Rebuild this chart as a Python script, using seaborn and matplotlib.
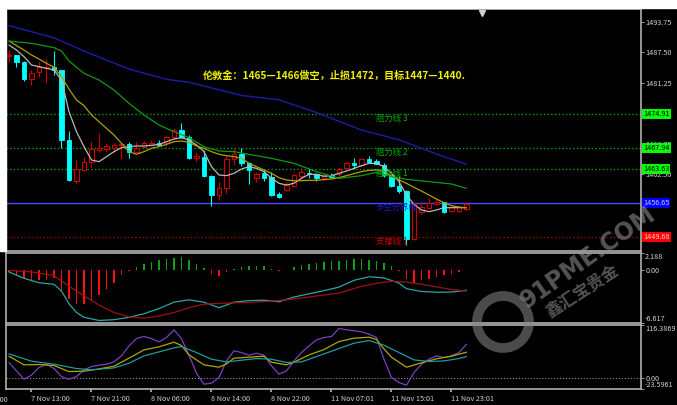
import matplotlib
matplotlib.use("Agg")
import matplotlib.pyplot as plt
import matplotlib.transforms as mtransforms
from matplotlib.patches import Rectangle, Circle
import seaborn as sns
import numpy as np

sns.set_theme(style="dark")
plt.rcParams['font.family'] = ['Noto Sans CJK SC', 'DejaVu Sans']

# ---- XAUUSD H1 candles ----
opens = [1486.85, 1486.98, 1485.62, 1482.00, 1483.43, 1484.40, 1484.59, 1483.91, 1469.57, 1461.23,
         1463.42, 1465.13, 1467.60, 1467.72, 1467.86, 1468.45, 1468.81, 1467.18, 1468.20, 1468.54,
         1469.02, 1468.88, 1470.10, 1471.60, 1470.25, 1465.81, 1466.15, 1462.26, 1458.29, 1459.66,
         1465.67, 1466.63, 1464.78, 1461.71, 1462.73, 1461.92, 1458.50, 1459.32, 1460.21, 1462.26,
         1462.87, 1462.53, 1461.71, 1462.33, 1462.53, 1463.76, 1464.92, 1464.44, 1465.60, 1465.33,
         1464.44, 1462.39, 1460.21, 1459.18, 1449.28, 1454.88, 1455.70, 1456.38, 1456.79, 1455.02,
         1455.02, 1455.43]
closes = [1486.92, 1485.62, 1482.07, 1483.23, 1484.46, 1484.59, 1483.91, 1469.57, 1461.37, 1463.62,
          1465.13, 1467.65, 1467.86, 1468.34, 1468.47, 1468.65, 1467.18, 1468.00, 1468.88, 1469.02,
          1468.54, 1470.10, 1471.60, 1470.25, 1465.81, 1466.29, 1462.19, 1458.29, 1459.66, 1465.67,
          1466.63, 1464.78, 1463.42, 1462.53, 1461.71, 1458.29, 1457.82, 1460.34, 1462.33, 1463.08,
          1462.53, 1461.71, 1462.33, 1462.05, 1463.62, 1464.78, 1464.44, 1465.67, 1465.13, 1464.65,
          1462.39, 1460.21, 1459.18, 1449.28, 1456.38, 1455.90, 1456.72, 1456.79, 1454.88, 1455.77,
          1455.83, 1456.52]
highs = [1488.00, 1487.00, 1485.70, 1483.91, 1485.62, 1486.16, 1487.80, 1484.00, 1471.41, 1465.47,
         1466.00, 1469.22, 1470.93, 1468.88, 1468.90, 1469.02, 1469.22, 1469.22, 1469.30, 1469.50,
         1469.60, 1470.60, 1472.00, 1472.98, 1470.50, 1467.18, 1467.50, 1462.30, 1461.03, 1466.35,
         1468.00, 1467.86, 1465.00, 1463.08, 1463.42, 1463.08, 1458.98, 1461.03, 1462.60, 1463.90,
         1463.55, 1462.87, 1462.60, 1462.73, 1464.10, 1465.13, 1465.81, 1465.95, 1466.29, 1465.60,
         1464.78, 1462.40, 1462.19, 1459.30, 1456.93, 1456.79, 1457.75, 1457.41, 1456.90, 1456.00,
         1456.00, 1456.93]
lows = [1485.62, 1484.59, 1481.66, 1480.84, 1482.54, 1481.18, 1482.88, 1467.86, 1461.20, 1460.48,
        1463.21, 1464.10, 1467.04, 1467.18, 1467.20, 1465.60, 1465.95, 1467.04, 1467.90, 1468.30,
        1468.30, 1468.40, 1469.80, 1470.00, 1465.67, 1465.33, 1462.00, 1456.04, 1457.27, 1458.64,
        1464.44, 1464.24, 1460.48, 1461.03, 1461.23, 1458.10, 1457.61, 1459.20, 1460.00, 1461.85,
        1461.71, 1461.23, 1461.40, 1461.71, 1462.26, 1463.55, 1463.62, 1464.10, 1464.78, 1464.58,
        1462.05, 1459.93, 1458.64, 1448.05, 1449.07, 1454.33, 1455.56, 1456.20, 1454.67, 1454.90,
        1454.90, 1455.30]

time_ticks = [3, 11, 19, 27, 35, 43, 51, 59]
time_labels = ['7 Nov 13:00', '7 Nov 21:00', '8 Nov 06:00', '8 Nov 14:00',
               '8 Nov 22:00', '11 Nov 07:01', '11 Nov 15:01', '11 Nov 23:01']

# moving averages
ma_fast = [1489.03, 1488.00, 1486.64, 1484.93, 1484.59, 1484.25, 1483.91, 1481.86, 1475.37, 1471.27,
           1468.20, 1465.47, 1465.13, 1466.15, 1467.18, 1468.00, 1468.20, 1468.34, 1468.34, 1468.47,
           1468.68, 1469.22, 1469.77, 1470.04, 1469.57, 1468.54, 1467.18, 1464.10, 1462.39, 1462.26,
           1462.73, 1463.62, 1464.10, 1463.76, 1463.08, 1461.71, 1460.69, 1460.34, 1460.69, 1461.71,
           1462.53, 1462.53, 1462.12, 1462.26, 1462.73, 1463.21, 1463.76, 1464.30, 1464.78, 1464.78,
           1464.10, 1462.73, 1461.03, 1458.29, 1456.38, 1455.22, 1454.88, 1455.22, 1455.70, 1455.70,
           1455.70, 1455.70]
ma_mid = [1489.85, 1488.90, 1488.00, 1486.98, 1486.16, 1485.28, 1484.46, 1482.54, 1480.02, 1477.76,
          1476.60, 1474.69, 1473.32, 1471.96, 1470.59, 1468.88, 1467.18, 1466.63, 1467.18, 1467.86,
          1468.20, 1468.68, 1469.22, 1469.36, 1469.09, 1468.34, 1467.86, 1467.18, 1466.63, 1466.35,
          1466.15, 1465.81, 1464.78, 1464.10, 1463.42, 1462.73, 1461.85, 1461.37, 1461.23, 1461.23,
          1461.30, 1461.30, 1461.44, 1461.57, 1461.85, 1462.26, 1462.67, 1463.08, 1463.35, 1463.42,
          1463.08, 1462.26, 1461.37, 1460.69, 1459.86, 1459.11, 1458.29, 1457.47, 1456.72, 1456.11,
          1455.83, 1455.70]
ma_slow_x = [0, 3, 6, 7, 8, 10, 12, 14, 16, 18, 20, 22, 24, 26, 28, 30, 32, 35, 38, 41,
             44, 47, 49, 51, 53, 56, 59, 61]
ma_slow = [1489.85, 1489.37, 1488.49, 1487.80, 1485.75, 1483.23, 1481.86, 1479.81, 1477.08, 1474.69,
           1472.64, 1471.27, 1470.04, 1468.20, 1467.31, 1467.18, 1466.63, 1465.81, 1464.78, 1463.08,
           1461.71, 1462.26, 1462.94, 1462.05, 1461.51, 1461.03, 1460.55, 1459.66]
ma_long_x = [0, 6, 10, 16, 21, 24, 31, 36, 41, 47, 52, 57, 61]
ma_long = [1493.00, 1490.50, 1487.80, 1484.10, 1482.00, 1481.40, 1478.70, 1477.80, 1475.20,
           1471.60, 1469.60, 1466.70, 1464.60]

levels = [1474.91, 1467.94, 1463.63, 1456.65, 1449.68]
level_names = ['阻力线 3', '阻力线 2', '阻力线 1', '多空分界线', '支撑线 1']
price_ticks = [1450.00, 1456.25, 1462.50, 1468.75, 1475.00, 1481.25, 1487.50, 1493.75]
price_hidden = [1456.25, 1475.00]   # fully covered by the level boxes on the original
note = '伦敦金：1465—1466做空，止损1472，目标1447—1440.'

# MACD
macd_hist = [-0.21, -0.63, -0.92, -1.17, -1.26, -1.26, -0.92, -2.43, -3.56, -4.19,
             -4.19, -3.77, -3.14, -2.31, -1.59, -0.63, -0.08, 0.42, 0.75, 1.05,
             1.26, 1.47, 1.59, 1.68, 1.26, 0.84, 0.34, -0.50, -0.75, -0.21,
             0.21, 0.42, 0.50, 0.50, 0.50, 0.21, -0.08, 0.08, 0.42, 0.63,
             0.84, 0.92, 1.05, 1.13, 1.13, 1.34, 1.47, 1.38, 1.34, 1.17,
             0.92, 0.50, -0.08, -1.05, -1.59, -1.26, -1.05, -0.84, -0.63, -0.42,
             -0.21, 0.08]
macd_main_x = [0, 2, 4, 6, 7, 8, 9, 10, 12, 14, 16, 18, 20, 22, 24, 26, 28, 30, 32, 34,
               36, 38, 40, 42, 44, 46, 48, 50, 52, 53, 55, 57, 59, 61]
macd_main = [-0.20, -1.00, -1.55, -1.75, -2.60, -4.20, -5.30, -5.90, -6.30, -6.20,
             -5.90, -5.45, -4.80, -4.00, -3.70, -4.00, -4.70, -4.00, -3.80, -3.75,
             -3.95, -3.35, -2.95, -2.55, -2.10, -1.25, -0.80, -0.95, -1.60, -2.30,
             -2.65, -2.75, -2.72, -2.50]
macd_sig_x = [0, 3, 6, 8, 10, 12, 14, 16, 18, 20, 22, 24, 26, 29, 32, 35, 37, 40, 44, 47,
              49, 51, 53, 55, 57, 59, 61]
macd_sig = [0.00, -0.20, -0.65, -2.00, -3.20, -4.35, -5.30, -5.85, -6.00, -5.75,
            -5.30, -4.70, -4.25, -4.10, -4.03, -3.87, -3.70, -3.35, -2.85, -2.00,
            -1.62, -1.36, -1.47, -1.75, -2.08, -2.40, -2.60]

# stochastic-type oscillator
osc_fast = [34.3, 16.0, -2.2, 6.6, 23.4, 30.6, 21.2, 3.6, -2.2, 3.6,
            18.2, 25.5, 28.4, 30.6, 35.7, 48.9, 70.7, 86.8, 91.2, 86.8,
            79.5, 89.0, 105.8, 86.8, 50.3, 10.9, -13.1, -10.9, 1.5, 37.9,
            59.8, 56.2, 50.3, 54.7, 50.3, 27.0, 8.8, 16.0, 37.9, 56.2,
            70.7, 83.9, 89.0, 91.2, 109.0, 105.8, 103.6, 101.4, 96.3, 89.0,
            41.6, 1.5, -9.5, -15.3, 12.4, 30.6, 41.6, 48.9, 45.2, 48.9,
            56.2, 74.4]
osc_mid_x = [0, 2, 4, 6, 8, 10, 12, 14, 16, 18, 20, 22, 23, 24, 26, 28, 29, 30, 32, 34,
             35, 37, 38, 40, 42, 44, 46, 48, 49, 50, 51, 53, 55, 57, 59, 61]
osc_mid = [48.1, 29.2, 29.9, 27.7, 14.6, 15.3, 20.4, 26.3, 43.8, 62.0,
           68.6, 78.8, 71.5, 51.0, 29.2, 24.1, 31.4, 43.8, 46.0, 48.1,
           35.0, 29.2, 35.0, 51.0, 62.7, 80.2, 87.5, 89.7, 84.6, 64.1,
           45.9, 24.1, 33.6, 42.4, 48.1, 56.9]
osc_slow_x = [0, 3, 6, 9, 11, 14, 16, 18, 20, 22, 23, 25, 27, 29, 31, 33, 35, 37, 39, 41,
              44, 46, 48, 50, 52, 54, 56, 58, 60, 61]
osc_slow = [53.2, 37.2, 30.6, 21.2, 18.2, 22.6, 32.8, 48.9, 57.6, 66.4,
            69.3, 56.2, 41.6, 35.7, 39.4, 43.0, 41.6, 34.3, 35.7, 47.4,
            64.9, 76.6, 82.5, 72.2, 56.2, 40.1, 36.5, 37.9, 43.0, 47.4]

# ---- layout (MT4-like, pixel based) ----
W, H = 677, 405
fig = plt.figure(figsize=(W / 100, H / 100), dpi=100, facecolor='black')
fig.patches.append(Rectangle((0, 1 - 8 / H), 1, 8 / H, transform=fig.transFigure,
                             color='white', zorder=0))
fig.patches.append(Rectangle((0, 1 - 251 / H), 6 / W, 243 / H, transform=fig.transFigure,
                             color='white', zorder=0))

left, width = 6 / W, 635 / W
ax1 = fig.add_axes([left, 1 - 251 / H, width, 242 / H])
ax2 = fig.add_axes([left, 1 - 323 / H, width, 70 / H])
ax3 = fig.add_axes([left, 1 - 389 / H, width, 64 / H])

xmin, xmax = -0.4, 84.27
txt = '#d0d0d0'
for ax in (ax1, ax2, ax3):
    ax.set_facecolor('black')
    ax.set_xlim(xmin, xmax)
    ax.grid(False)
    for sp in ax.spines.values():
        sp.set_color('#b0b0b0')
        sp.set_linewidth(1.2)
    ax.yaxis.tick_right()
    ax.tick_params(axis='y', colors='#b0b0b0', labelcolor=txt, labelsize=5.2,
                   length=2, width=0.6, pad=1, direction='out')
    ax.tick_params(axis='x', bottom=False, labelbottom=False)
    ax.set_xlabel('')
    ax.set_ylabel('')

# ---- main panel ----
ax1.set_ylim(1446.82, 1496.41)
idx = np.arange(len(opens))
o = np.array(opens); c = np.array(closes)
bear = c < o
wick_col = np.where(bear, '#00ffff', '#d00000')
ax1.vlines(idx, lows, highs, colors=wick_col, lw=0.8, zorder=2)
body_h = np.maximum(np.abs(c - o), 0.06)
body_b = np.minimum(o, c)
ax1.bar(idx[bear], body_h[bear], bottom=body_b[bear], width=0.64,
        color='#00ffff', edgecolor='#00ffff', lw=0.6, zorder=3)
ax1.bar(idx[~bear], body_h[~bear], bottom=body_b[~bear], width=0.64,
        color='black', edgecolor='#d00000', lw=0.8, zorder=3)

sns.lineplot(x=idx, y=ma_fast, ax=ax1, color='#b8b8b8', lw=0.9, zorder=4)
sns.lineplot(x=idx, y=ma_mid, ax=ax1, color='#b0a000', lw=0.9, zorder=4)
sns.lineplot(x=ma_slow_x, y=ma_slow, ax=ax1, color='#109a10', lw=0.9, zorder=4)
sns.lineplot(x=ma_long_x, y=ma_long, ax=ax1, color='#1c1ca8', lw=1.0, zorder=4)

lvl_line = ['#00a000', '#00a000', '#00a000', '#4b4bff', '#a00000']
lvl_style = [':', ':', ':', '-', ':']
lvl_text = ['#00b000', '#00b000', '#00b000', '#1d1dd0', '#d00000']
lvl_box = ['#00ff00', '#00ff00', '#00ff00', '#0000ff', '#ff0000']
lvl_boxtxt = ['black', 'black', 'black', '#c8c8ff', '#ffd0d0']
bt = mtransforms.blended_transform_factory(ax1.transAxes, ax1.transData)
for lv, name, lc, ls, tc, bc, btc in zip(levels, level_names, lvl_line, lvl_style,
                                         lvl_text, lvl_box, lvl_boxtxt):
    ax1.axhline(lv, color=lc, ls=ls, lw=1.0, zorder=1)
    ax1.text(48.9, lv, name, color=tc, fontsize=6, va='top', ha='left', zorder=5)
    ax1.text(1.003, lv, f'{lv:.2f}', transform=bt, color=btc, fontsize=5.2,
             va='center', ha='left', clip_on=False, zorder=6,
             bbox=dict(boxstyle='square,pad=0.18', fc=bc, ec='none'))

ax1.set_yticks(price_ticks)
ax1.set_yticklabels(['' if p in price_hidden else f'{p:.2f}' for p in price_ticks])
ax1.text(25.9, 1482.7, note, color='#f0f000', fontsize=7.3, fontweight='bold',
         va='center', ha='left', zorder=6)
ax1.plot([0.75], [0.985], marker='v', ms=4, color='#d0d0d0', transform=ax1.transAxes,
         clip_on=False)

# ---- MACD panel ----
ax2.set_ylim(-6.617, 2.188)
h = np.array(macd_hist)
ax2.bar(idx, h, width=0.16, color=np.where(h >= 0, '#12a012', '#ff1010'), lw=0)
sns.lineplot(x=macd_main_x, y=macd_main, ax=ax2, color='#2aa6a6', lw=0.9)
sns.lineplot(x=macd_sig_x, y=macd_sig, ax=ax2, color='#a01010', lw=0.9)
ax2.set_yticks([-6.617, 0, 2.188])
ax2.set_yticklabels(['-6.617', '0.00', '2.188'])

# ---- oscillator panel ----
ax3.set_ylim(-23.5961, 116.3869)
ax3.axhline(0, color='#909090', ls=':', lw=0.8)
sns.lineplot(x=idx, y=osc_fast, ax=ax3, color='#7b3fc0', lw=0.9)
sns.lineplot(x=osc_mid_x, y=osc_mid, ax=ax3, color='#b0a800', lw=0.9)
sns.lineplot(x=osc_slow_x, y=osc_slow, ax=ax3, color='#1f9c9c', lw=0.9)
ax3.set_yticks([-23.5961, 0, 116.3869])
ax3.set_yticklabels(['-23.5961', '0.00', '116.3869'])

for ax in (ax2, ax3):
    labs = ax.get_yticklabels()
    labs[0].set_va('bottom')
    labs[-1].set_va('top')

ax3.set_xticks(time_ticks)
ax3.set_xticklabels(time_labels)
ax3.tick_params(axis='x', bottom=True, labelbottom=True, colors='#b0b0b0',
                labelcolor=txt, labelsize=5.2, length=2, pad=2)
for lab in ax3.get_xticklabels():
    lab.set_ha('left')
xb = mtransforms.blended_transform_factory(ax3.transData, ax3.transAxes)
ax3.text(-5.4, -0.11, '7 Nov 05:00', transform=xb, color=txt, fontsize=5.2,
         ha='left', va='top', clip_on=False)

# watermark
ring = Circle((503, H - 322), 26, transform=mtransforms.IdentityTransform(),
              fill=False, ec='#8a8a8a', lw=7, alpha=0.55, zorder=20)
fig.patches.append(ring)
fig.text(588 / W, 1 - 258 / H, '91PME.COM', rotation=35, color='#9a9a9a', alpha=0.55,
         fontsize=17, fontweight='bold', ha='center', va='center', family=['DejaVu Sans'])
fig.text(583 / W, 1 - 292 / H, '鑫汇宝贵金', rotation=33, color='#9a9a9a', alpha=0.55,
         fontsize=12, fontweight='bold', ha='center', va='center')

fig.savefig('out.png', dpi=100, facecolor=fig.get_facecolor())
